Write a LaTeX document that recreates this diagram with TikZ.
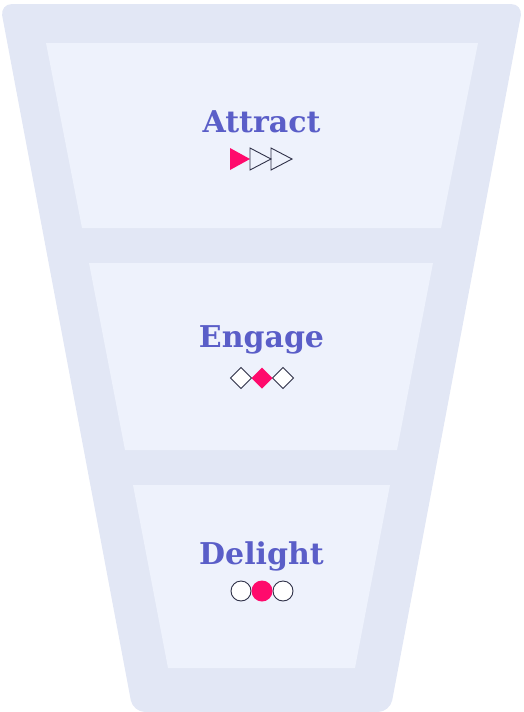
\documentclass[tikz,border=0pt]{standalone}
\usepackage{fontspec}
\newfontfamily\stagefont{DejaVu Serif}
\definecolor{funnelout}{HTML}{E2E7F5}
\definecolor{funnelin}{HTML}{EEF2FC}
\definecolor{stageblue}{HTML}{5A5EC8}
\definecolor{hotpink}{HTML}{FF0A6C}
\definecolor{iconline}{HTML}{2E3047}
\tikzset{
  stagetitle/.style={text=stageblue, font=\stagefont\bfseries\fontsize{30}{32}\selectfont, anchor=base, inner sep=0pt},
  iconopen/.style={draw=iconline, fill=white, line width=0.9pt, line join=miter},
  iconfull/.style={fill=hotpink}
}
\begin{document}
\begin{tikzpicture}[x=1pt, y=-1pt]
  \useasboundingbox (0,0) rectangle (523,712);
  % Funnel
  \fill[funnelout, rounded corners=12pt] (0,4) -- (523,4) -- (390,712) -- (133,712) -- cycle;

  % Stage 1
  \fill[funnelin] (46,43) -- (478,43) -- (441,228) -- (82,228) -- cycle;
  \node[stagetitle] (attract) at (261.5,132) {Attract};
  \fill[iconfull] (230,148) -- (250,159) -- (230,170) -- cycle;
  \foreach \x in {250,271}
    \draw[iconopen, fill=none] (\x,148) -- (\x+21,159) -- (\x,170) -- cycle;

  % Stage 2
  \fill[funnelin] (89,263) -- (433,263) -- (397,450) -- (125,450) -- cycle;
  \node[stagetitle] (engage) at (261.5,347) {Engage};
  \foreach \x in {241,283}
    \draw[iconopen] (\x-10.5,378) -- (\x,367.5) -- (\x+10.5,378) -- (\x,388.5) -- cycle;
  \fill[iconfull] (251.5,378) -- (262,367.5) -- (272.5,378) -- (262,388.5) -- cycle;

  % Stage 3
  \fill[funnelin] (133,485) -- (390,485) -- (355,668) -- (168,668) -- cycle;
  \node[stagetitle] (delight) at (261.5,564) {Delight};
  \foreach \x in {241,283}
    \draw[iconopen] (\x,591) circle (10);
  \fill[iconfull] (262,591) circle (10.5);
\end{tikzpicture}
\end{document}
